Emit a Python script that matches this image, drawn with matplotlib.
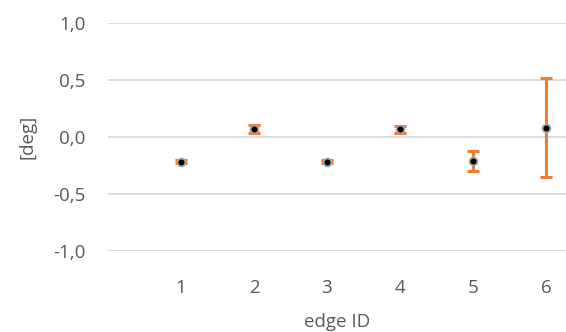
import matplotlib
matplotlib.use("Agg")
import matplotlib.pyplot as plt
from matplotlib.ticker import FuncFormatter

edge_ids = [1, 2, 3, 4, 5, 6]
values = [-0.215, 0.068, -0.215, 0.068, -0.21, 0.08]
errors = [0.01, 0.035, 0.01, 0.03, 0.09, 0.435]
y_ticks = [-1.0, -0.5, 0.0, 0.5, 1.0]
x_ticks = [1, 2, 3, 4, 5, 6]

plt.rcParams['font.family'] = ['Open Sans', 'DejaVu Sans']
text_color = '#595959'

fig = plt.figure(figsize=(5.66, 3.32), dpi=100)
ax = fig.add_axes([108/566, (332-251)/332, 1 - 108/566, (251-23)/332])

ax.errorbar(edge_ids, values, yerr=errors, fmt='none', ecolor='#ED7D31',
            elinewidth=2.2, capsize=4, capthick=2.2, zorder=3)
ax.scatter(edge_ids, values, s=32, color='black', edgecolors='#a6a6a6',
           linewidths=1.3, zorder=4)

ax.set_xlim(0, (566-108)/73)
ax.set_ylim(-1.0, 1.0)
ax.set_yticks(y_ticks)
ax.set_xticks(x_ticks)
ax.yaxis.set_major_formatter(FuncFormatter(lambda v, p: f"{v:.1f}".replace('.', ',')))
ax.grid(axis='y', color='#d9d9d9', linewidth=1.3)
ax.set_axisbelow(True)
for s in ax.spines.values():
    s.set_visible(False)
ax.tick_params(axis='both', length=0, labelsize=13.5, colors=text_color)
ax.tick_params(axis='x', pad=20)
ax.tick_params(axis='y', pad=16)
ax.set_xlabel('edge ID', color=text_color, fontsize=13.5, labelpad=12)
ax.set_ylabel('[deg]', color=text_color, fontsize=13.5, labelpad=12)

fig.savefig('out.png', dpi=100)
